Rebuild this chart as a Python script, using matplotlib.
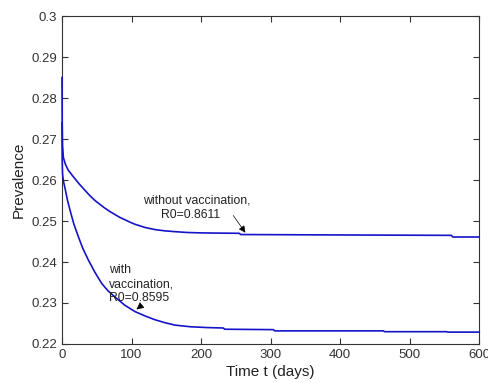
import numpy as np
import matplotlib
matplotlib.use("Agg")
import matplotlib.pyplot as plt

plt.rcParams['font.family'] = ['Liberation Sans', 'DejaVu Sans']

# curve without vaccination
t_without = [0, 0.3, 0.8, 2, 5, 9, 14, 18.7, 25, 33, 40, 47.5, 55, 62, 70, 76, 83, 90.6,
             98, 105, 120, 134, 148, 162.6, 180, 200, 255, 257, 400, 560, 562, 600]
p_without = [0.285, 0.274, 0.2685, 0.2655, 0.2638, 0.2624, 0.2613, 0.2603, 0.2590,
             0.2575, 0.2562, 0.2550, 0.2540, 0.2531, 0.2522, 0.2516, 0.2509, 0.2503,
             0.2497, 0.2492, 0.2484, 0.2479, 0.2476, 0.2474, 0.2472, 0.2471, 0.2470,
             0.2467, 0.2466, 0.2465, 0.2461, 0.2461]

# curve with vaccination
t_with = [0, 0.3, 0.8, 2, 5, 8, 11.5, 17, 23.5, 30, 37.9, 47, 57, 66, 76, 90, 105,
          120, 134, 148, 162.6, 185, 210, 232, 234, 304, 306, 462, 464, 553, 555, 600]
p_with = [0.274, 0.265, 0.2615, 0.2598, 0.2575, 0.2550, 0.2527, 0.2493, 0.2462,
          0.2433, 0.2405, 0.2376, 0.2348, 0.2330, 0.2315, 0.2295, 0.2279,
          0.2268, 0.2259, 0.2252, 0.2246, 0.2242, 0.2240, 0.2239, 0.2236, 0.2235,
          0.2232, 0.2232, 0.2230, 0.2230, 0.2229, 0.2229]

x_ticks = [0, 100, 200, 300, 400, 500, 600]
y_ticks = [0.22, 0.23, 0.24, 0.25, 0.26, 0.27, 0.28, 0.29, 0.3]
y_labels = ['0.22', '0.23', '0.24', '0.25', '0.26', '0.27', '0.28', '0.29', '0.3']

fig = plt.figure(figsize=(4.88, 3.82), dpi=100)
ax = fig.add_axes([0.127, 0.0995, 0.855, 0.8585])

ax.plot(t_without, p_without, color='#1414c8', lw=1.2, zorder=3, clip_on=False)
ax.plot(t_with, p_with, color='#1414c8', lw=1.2, zorder=3, clip_on=False)

ax.set_xlim(0, 600)
ax.set_ylim(0.22, 0.3)
ax.set_xticks(x_ticks)
ax.set_yticks(y_ticks)
ax.set_yticklabels(y_labels)
ax.tick_params(direction='in', top=True, right=True, labelsize=9.5,
               colors='#333333', length=4)
for s in ax.spines.values():
    s.set_color('#333333')
    s.set_linewidth(0.8)

ax.set_xlabel('Time t (days)', fontsize=11, color='#222222', labelpad=3)
ax.set_ylabel('Prevalence', fontsize=11, color='#222222', labelpad=4)

# labels
txt = dict(fontsize=8.8, color='#222222', va='center', ha='left')
ax.annotate('', xy=(266, 0.2466), xytext=(244, 0.2519),
            arrowprops=dict(arrowstyle='-|>', color='black', lw=0.5,
                            mutation_scale=10))
ax.text(116, 0.2551, 'without vaccination,', **txt)
ax.text(143, 0.2515, 'R0=0.8611', **txt)

ax.annotate('', xy=(104, 0.2280), xytext=(118, 0.2299),
            arrowprops=dict(arrowstyle='-|>', color='black', lw=0.5,
                            mutation_scale=11))
ax.text(67, 0.2380, 'with', **txt)
ax.text(67, 0.2345, 'vaccination,', **txt)
ax.text(67, 0.2311, 'R0=0.8595', **txt)

fig.savefig('out.png', dpi=100)
